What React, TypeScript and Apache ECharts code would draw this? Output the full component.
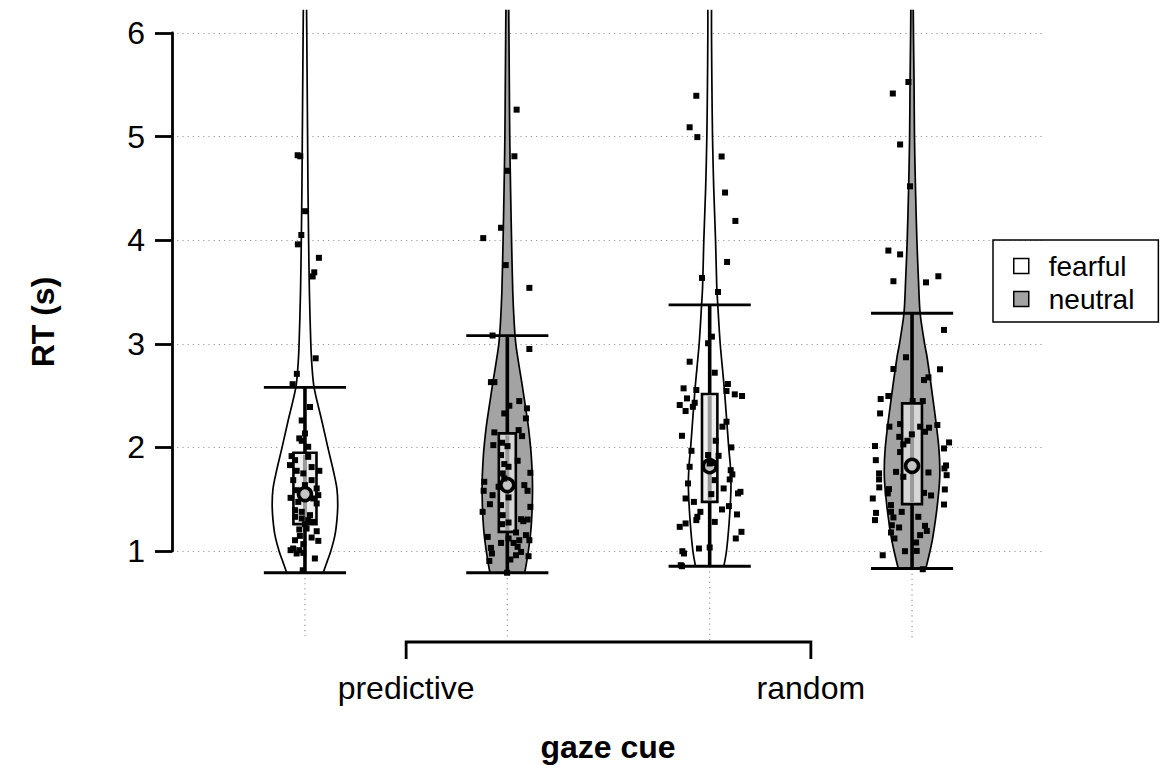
import React, { useEffect, useRef } from 'react';
import * as echarts from 'echarts';

// ---------- data ----------
const cueLabels = ['predictive', 'random'];
const emotionLabels = ['fearful', 'neutral'];
const yTicks = [1, 2, 3, 4, 5, 6];

// violins in drawing order: predictive-fearful, predictive-neutral, random-fearful, random-neutral
const violinX = [1, 2, 3, 4];
const violinEmotion = [0, 1, 0, 1];

const lowerWhisker = [0.79, 0.79, 0.853, 0.831];
const quart1 = [1.259, 1.185, 1.474, 1.452];
const medians = [1.549, 1.636, 1.819, 1.822];
const quart3 = [1.948, 2.135, 2.515, 2.425];
const upperWhisker = [2.58, 3.078, 3.375, 3.295];

// density half-widths (x-axis units) at RT values
const densityPredFearful = [
  [0.79, 0.09], [0.9, 0.11], [1.0, 0.128], [1.15, 0.148], [1.3, 0.158], [1.45, 0.162], [1.6, 0.158],
  [1.76, 0.142], [2.0, 0.113], [2.26, 0.083], [2.58, 0.045], [2.8, 0.034], [3.0, 0.029], [3.5, 0.022],
  [4.0, 0.018], [4.5, 0.015], [5.0, 0.013], [5.5, 0.011], [6.0, 0.009], [6.225, 0.008],
];
const densityPredNeutral = [
  [0.79, 0.086], [0.9, 0.096], [1.0, 0.104], [1.15, 0.114], [1.3, 0.12], [1.5, 0.124], [1.7, 0.124],
  [1.9, 0.119], [2.0, 0.115], [2.2, 0.104], [2.4, 0.089], [2.62, 0.072], [2.8, 0.057], [3.0, 0.042],
  [3.2, 0.034], [3.5, 0.027], [4.0, 0.021], [4.5, 0.016], [5.0, 0.012], [5.5, 0.01], [6.0, 0.008], [6.225, 0.007],
];
const densityRandFearful = [
  [0.853, 0.07], [1.0, 0.083], [1.27, 0.096], [1.59, 0.105], [1.8, 0.103], [2.0, 0.094], [2.55, 0.073],
  [3.0, 0.052], [3.375, 0.04], [3.55, 0.035], [4.0, 0.029], [4.5, 0.02], [5.0, 0.014], [5.5, 0.011],
  [6.0, 0.009], [6.225, 0.009],
];
const densityRandNeutral = [
  [0.831, 0.068], [1.0, 0.089], [1.136, 0.103], [1.426, 0.124], [1.716, 0.137], [2.006, 0.132],
  [2.457, 0.104], [2.875, 0.074], [3.0, 0.062], [3.295, 0.04], [3.6, 0.032], [4.0, 0.024], [4.5, 0.017],
  [5.0, 0.012], [5.5, 0.01], [6.0, 0.007], [6.225, 0.006],
];
const densities = [densityPredFearful, densityPredNeutral, densityRandFearful, densityRandNeutral];

// individual RTs: [RT, horizontal jitter]
const rtPredFearful = [
  [4.82, -0.036], [4.81, -0.023], [4.28, 0.001], [4.05, -0.018], [3.96, -0.035], [3.83, 0.069], [3.69, 0.046],
  [3.65, 0.038], [2.86, 0.053], [2.71, -0.04], [2.61, -0.061], [2.39, 0.025], [2.26, -0.016], [2.135, 0.0],
  [2.087, -0.028], [2.064, -0.016], [2.006, 0.016], [1.916, -0.066], [1.877, -0.049], [1.909, 0.016],
  [1.829, -0.074], [1.81, 0.033], [1.774, 0.071], [1.774, -0.041], [1.749, -0.008], [1.684, -0.058],
  [1.684, 0.033], [1.636, 0.0], [1.604, 0.058], [1.587, -0.041], [1.539, 0.066], [1.513, -0.071],
  [1.507, 0.041], [1.474, -0.033], [1.459, 0.058], [1.394, -0.049], [1.378, -0.016], [1.346, 0.025],
  [1.33, -0.049], [1.314, -0.016], [1.298, 0.016], [1.281, 0.041], [1.259, 0.0], [1.208, -0.028],
  [1.217, 0.008], [1.191, 0.058], [1.146, -0.025], [1.13, 0.033], [1.104, -0.049], [1.098, 0.066],
  [1.066, -0.008], [1.024, -0.058], [1.008, -0.071], [1.008, -0.028], [0.982, -0.008], [0.976, -0.041],
  [0.928, 0.049], [0.814, -0.011],
];
const rtPredNeutral = [
  [5.26, 0.046], [4.81, 0.035], [4.67, 0.003], [4.12, -0.031], [4.02, -0.119], [3.76, -0.008], [3.54, 0.109],
  [3.08, -0.073], [2.95, 0.109], [2.63, -0.064], [2.63, -0.081], [2.447, 0.059], [2.402, 0.01], [2.377, 0.097],
  [2.328, -0.015], [2.28, 0.092], [2.167, 0.056], [2.145, -0.064], [2.109, 0.073], [2.045, -0.026],
  [2.022, -0.069], [2.012, 0.001], [1.926, -0.031], [1.871, 0.051], [1.839, -0.015], [1.813, 0.006],
  [1.755, 0.114], [1.749, -0.023], [1.7, -0.015], [1.668, -0.114], [1.636, 0.084], [1.62, -0.043],
  [1.581, -0.117], [1.581, 0.1], [1.539, -0.073], [1.517, 0.006], [1.452, -0.086], [1.443, -0.031],
  [1.426, 0.114], [1.378, -0.122], [1.346, -0.023], [1.307, 0.068], [1.304, 0.1], [1.275, 0.006],
  [1.259, -0.026], [1.288, 0.079], [1.179, 0.043], [1.153, 0.092], [1.136, -0.097], [1.104, 0.059],
  [1.104, 0.109], [1.121, 0.006], [1.078, -0.031], [1.078, 0.031], [1.04, 0.051], [1.03, -0.081],
  [0.991, 0.068], [0.976, -0.076], [0.959, 0.043], [0.95, 0.105], [0.918, 0.015], [0.904, -0.089],
  [0.79, -0.001],
];
const rtRandFearful = [
  [5.394, -0.066], [5.09, -0.099], [4.995, -0.061], [4.808, 0.059], [4.46, 0.076], [4.186, 0.127], [3.79, 0.086],
  [3.636, -0.038], [3.5, 0.041], [3.069, 0.011], [3.005, -0.008], [2.827, -0.099], [2.721, 0.025], [2.612, 0.09],
  [2.57, -0.129], [2.554, -0.066], [2.544, 0.083], [2.512, 0.124], [2.496, 0.16], [2.473, -0.112],
  [2.431, -0.074], [2.409, -0.148], [2.392, -0.083], [2.351, -0.119], [2.248, 0.083], [2.2, 0.063],
  [2.112, -0.137], [2.064, 0.03], [2.0, 0.107], [1.967, -0.09], [1.926, -0.008], [1.919, 0.044],
  [1.845, 0.0], [1.813, -0.099], [1.851, 0.025], [1.78, 0.104], [1.739, 0.112], [1.691, 0.099],
  [1.652, -0.107], [1.684, 0.025], [1.604, 0.069], [1.571, 0.152], [1.556, 0.14], [1.549, 0.008],
  [1.507, -0.119], [1.474, -0.078], [1.433, 0.095], [1.401, 0.061], [1.378, -0.046], [1.353, 0.135],
  [1.33, -0.061], [1.298, -0.066], [1.281, 0.025], [1.266, -0.119], [1.233, -0.148], [1.185, 0.157],
  [1.121, 0.129], [1.024, -0.053], [1.034, 0.0], [0.998, -0.135], [0.976, -0.127], [0.863, -0.143],
  [0.853, -0.137],
];
const rtRandNeutral = [
  [5.527, -0.018], [5.416, -0.095], [4.924, -0.059], [4.52, -0.01], [3.9, -0.117], [3.863, -0.059], [3.604, -0.092],
  [3.593, 0.069], [3.652, 0.13], [3.134, 0.158], [2.87, -0.03], [2.757, -0.092], [2.754, 0.138], [2.676, 0.081],
  [2.65, 0.059], [2.467, -0.155], [2.496, -0.117], [2.447, 0.053], [2.447, 0.003], [2.328, -0.158],
  [2.216, 0.125], [2.2, -0.112], [2.225, -0.059], [2.2, 0.04], [2.19, 0.084], [2.151, 0.064], [2.102, -0.063],
  [2.126, -0.001], [2.064, -0.023], [2.029, -0.043], [2.013, -0.183], [2.048, 0.183], [1.99, 0.158],
  [1.955, -0.059], [1.877, -0.179], [1.826, 0.168], [1.797, 0.16], [1.764, -0.079], [1.758, 0.081],
  [1.749, -0.163], [1.732, 0.171], [1.716, -0.043], [1.691, -0.163], [1.614, -0.162], [1.597, -0.114],
  [1.594, 0.162], [1.556, -0.12], [1.561, 0.059], [1.536, 0.094], [1.507, -0.194], [1.449, 0.158],
  [1.443, -0.104], [1.378, -0.051], [1.368, -0.178], [1.378, -0.104], [1.33, 0.031], [1.324, -0.092],
  [1.298, -0.183], [1.249, -0.1], [1.227, -0.064], [1.243, 0.064], [1.194, 0.073], [1.179, -0.104],
  [1.153, 0.04], [1.121, -0.087], [1.082, 0.02], [0.998, -0.035], [1.001, 0.023], [0.959, -0.145],
  [0.824, 0.053],
];
const rtPoints = [rtPredFearful, rtPredNeutral, rtRandFearful, rtRandNeutral];

// ---------- styles ----------
const FONT = '"Liberation Sans", Arial, sans-serif';
const FILLS = ['#ffffff', '#a3a3a3'];
const BOX_FILLS = ['#eeeeee', '#d6d6d6'];
const BOX_HALF = [0.057, 0.042, 0.038, 0.049];
const CAP_HALF = 0.203;

export default function App() {
  const ref = useRef<HTMLDivElement>(null);

  useEffect(() => {
    if (!ref.current) return;
    const chart = echarts.init(ref.current, undefined, { renderer: 'svg' });

    const cueCenters = [0, 1].map((g) => (violinX[g * 2] + violinX[g * 2 + 1]) / 2);

    const violinSeries = [0, 1].map((e) => ({
      type: 'custom',
      name: emotionLabels[e],
      coordinateSystem: 'cartesian2d',
      clip: false,
      silent: true,
      z: 2,
      itemStyle: { color: FILLS[e] },
      data: violinX.map((_, i) => i).filter((i) => violinEmotion[i] === e).map((i) => [i, violinX[i]]),
      renderItem: (params: any, api: any) => {
        const i = api.value(0);
        const c = violinX[i];
        const prof = densities[i];
        const left = prof.map(([v, w]) => api.coord([c - w, v]));
        const right = prof.map(([v, w]) => api.coord([c + w, v]));
        const outline = { stroke: '#000', lineWidth: 1.7, fill: 'none' };
        return {
          type: 'group',
          children: [
            {
              type: 'polygon',
              shape: { points: left.concat(right.slice().reverse()) },
              style: { fill: FILLS[violinEmotion[i]], stroke: 'none' },
            },
            { type: 'polyline', shape: { points: left, smooth: 0.3 }, style: outline },
            { type: 'polyline', shape: { points: right, smooth: 0.3 }, style: outline },
          ],
        };
      },
    }));

    const gridLineSeries = {
      type: 'custom',
      name: 'xgrid',
      coordinateSystem: 'cartesian2d',
      clip: false,
      silent: true,
      z: 1,
      data: violinX.map((x, i) => [i, x]),
      renderItem: (params: any, api: any) => {
        const i = api.value(0);
        const top = api.coord([violinX[i], lowerWhisker[i]]);
        const base = api.coord([violinX[i], 1]);
        return {
          type: 'line',
          shape: { x1: top[0], y1: top[1], x2: top[0], y2: base[1] + 89 },
          style: { stroke: '#999', lineWidth: 1.2, lineDash: [1.2, 4] },
        };
      },
    };

    const boxSeries = {
      type: 'custom',
      name: 'box',
      coordinateSystem: 'cartesian2d',
      clip: false,
      silent: true,
      z: 3,
      data: violinX.map((x, i) => [i, x]),
      renderItem: (params: any, api: any) => {
        const i = api.value(0);
        const c = violinX[i];
        const e = violinEmotion[i];
        const pLow = api.coord([c, lowerWhisker[i]]);
        const pQ1 = api.coord([c, quart1[i]]);
        const pMed = api.coord([c, medians[i]]);
        const pQ3 = api.coord([c, quart3[i]]);
        const pUp = api.coord([c, upperWhisker[i]]);
        const capL = api.coord([c - CAP_HALF, 1])[0];
        const capR = api.coord([c + CAP_HALF, 1])[0];
        const bL = api.coord([c - BOX_HALF[i], 1])[0];
        const bR = api.coord([c + BOX_HALF[i], 1])[0];
        const cx = pLow[0];
        const blk = { stroke: '#000', lineWidth: 3.6 };
        return {
          type: 'group',
          children: [
            { type: 'line', shape: { x1: capL, y1: pLow[1], x2: capR, y2: pLow[1] }, style: { stroke: '#000', lineWidth: 2.8 } },
            { type: 'line', shape: { x1: capL, y1: pUp[1], x2: capR, y2: pUp[1] }, style: { stroke: '#000', lineWidth: 2.8 } },
            { type: 'line', shape: { x1: cx, y1: pLow[1], x2: cx, y2: pQ1[1] }, style: blk },
            { type: 'line', shape: { x1: cx, y1: pQ3[1], x2: cx, y2: pUp[1] }, style: blk },
            {
              type: 'rect',
              shape: { x: bL, y: pQ3[1], width: bR - bL, height: pQ1[1] - pQ3[1] },
              style: { fill: BOX_FILLS[e], stroke: '#000', lineWidth: 2.6 },
            },
            { type: 'line', shape: { x1: cx, y1: pQ1[1] - 2, x2: cx, y2: pQ3[1] + 2 }, style: { stroke: '#9a9a9a', lineWidth: 4 } },
            { type: 'circle', shape: { cx, cy: pMed[1], r: 6.5 }, style: { fill: '#c4c4c4', stroke: '#000', lineWidth: 3.6 } },
          ],
        };
      },
    };

    const pointSeries = {
      type: 'scatter',
      name: 'RT',
      clip: false,
      silent: true,
      z: 4,
      symbol: 'rect',
      symbolSize: 6,
      itemStyle: { color: '#000', opacity: 1 },
      data: rtPoints.flatMap((pts, i) => pts.map(([v, j]) => [violinX[i] + j, v])),
    };

    const bracketSeries = {
      type: 'custom',
      name: 'cue',
      coordinateSystem: 'cartesian2d',
      clip: false,
      silent: true,
      z: 2,
      data: [[0, cueCenters[0]]],
      renderItem: (params: any, api: any) => {
        const a = api.coord([cueCenters[0], 1]);
        const b = api.coord([cueCenters[1], 1]);
        const yB = a[1] + 91;
        return {
          type: 'group',
          children: [
            {
              type: 'polyline',
              shape: { points: [[a[0], yB + 17], [a[0], yB], [b[0], yB], [b[0], yB + 17]] },
              style: { stroke: '#000', lineWidth: 2.8, fill: 'none' },
            },
            ...cueLabels.map((lab, g) => ({
              type: 'text',
              x: g === 0 ? a[0] : b[0],
              y: yB + 46,
              style: {
                text: lab, fill: '#000', font: `32px ${FONT}`,
                align: 'center', verticalAlign: 'middle', textAlign: 'center', textVerticalAlign: 'middle',
              },
            })),
          ],
        };
      },
    };

    chart.setOption({
      animation: false,
      backgroundColor: '#ffffff',
      grid: { left: 172, right: 121, top: 33, bottom: 214 },
      xAxis: { type: 'value', min: 0.343, max: 4.657, show: false },
      yAxis: {
        type: 'value',
        min: yTicks[0],
        max: yTicks[yTicks.length - 1],
        interval: 1,
        axisLine: { show: true, lineStyle: { color: '#000', width: 2.8 } },
        axisTick: { show: true, length: 17, lineStyle: { color: '#000', width: 2.8 } },
        axisLabel: { fontSize: 32, color: '#000', margin: 27, fontFamily: FONT },
        splitLine: { show: true, lineStyle: { color: '#999', width: 1.2, type: [1.2, 4] } },
      },
      legend: {
        data: emotionLabels,
        orient: 'vertical',
        left: 993,
        top: 240,
        padding: [12, 24, 9, 20],
        itemGap: 5,
        itemWidth: 15,
        itemHeight: 15,
        icon: 'rect',
        borderColor: '#000',
        borderWidth: 1.5,
        borderRadius: 0,
        itemStyle: { borderColor: '#000', borderWidth: 1.5 },
        textStyle: { fontSize: 28, lineHeight: 26, color: '#000', fontFamily: FONT, padding: [0, 0, 0, 15] },
        selectedMode: false,
      },
      graphic: [
        {
          type: 'text',
          x: 43,
          y: 322,
          rotation: Math.PI / 2,
          style: {
            text: 'RT (s)', fill: '#000', font: `bold 32px ${FONT}`,
            align: 'center', verticalAlign: 'middle', textAlign: 'center', textVerticalAlign: 'middle',
          },
        },
        {
          type: 'text',
          x: 608,
          y: 747,
          style: {
            text: 'gaze cue', fill: '#000', font: `bold 32px ${FONT}`,
            align: 'center', verticalAlign: 'middle', textAlign: 'center', textVerticalAlign: 'middle',
          },
        },
      ],
      series: [gridLineSeries, ...violinSeries, boxSeries, pointSeries, bracketSeries],
    });

    return () => chart.dispose();
  }, []);

  return (
    <div
      ref={ref}
      style={{ position: 'fixed', left: 0, top: 0, width: 1166, height: 765, background: '#fff' }}
    />
  );
}
